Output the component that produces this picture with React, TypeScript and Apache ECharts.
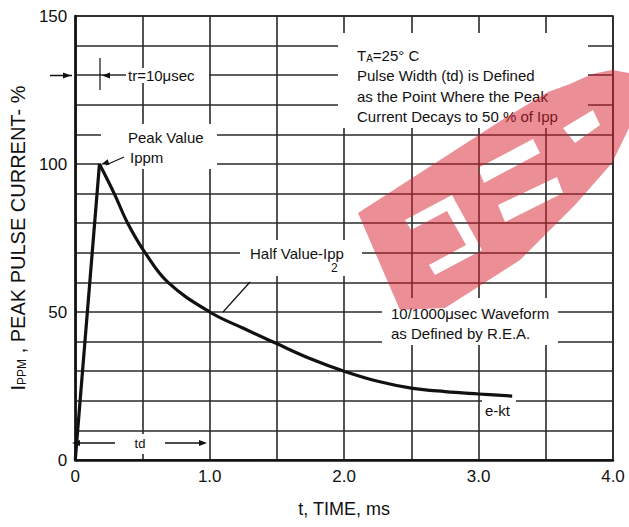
import React, { useEffect, useRef } from "react";
import * as echarts from "echarts";

// ---- data ----
const xTickLabels = ["0", "1.0", "2.0", "3.0", "4.0"];
const yTickLabels = ["0", "50", "100", "150"];

// rising edge of the pulse
const riseTimeMs = [0, 0.18];
const riseCurrentPct = [0, 100];

// decay after the peak
const decayTimeMs = [0.18, 0.29, 0.39, 0.52, 0.69, 1.0, 1.25, 1.49, 1.75, 2.0, 2.25, 2.5, 2.75, 3.0, 3.25];
const decayCurrentPct = [100, 90, 80, 70, 60, 50, 44.5, 39.5, 34.2, 30, 26.6, 24.3, 23.1, 22.3, 21.6];

const FONT = '"Liberation Sans", Arial, Helvetica, sans-serif';
const INK = "#111";
const GRID_INK = "#2a2a2a";

// ---- watermark outline (page pixels) ----
const wmOuter: number[][] = [
  [358, 213], [505, 118], [548, 92], [570, 84], [592, 74], [612, 70], [629, 73], [629, 128],
  [612, 163], [575, 205], [520, 260], [445, 308], [400, 310],
];
const wmHoles: number[][][] = [
  [[405, 220], [452, 195], [482, 250], [435, 275], [429, 265], [466, 245], [447, 211], [411, 230]],
  [[478, 168], [533, 139], [540, 153], [484, 183]],
  [[498, 205], [557, 177], [563, 193], [505, 222]],
  [[563, 128], [593, 110], [600, 125], [575, 143]],
];
const ringD = (p: number[][]) => "M" + p.map((q) => q[0] + " " + q[1]).join(" L") + " Z";
const wmD = [wmOuter, ...wmHoles].map(ringD).join(" ");
const wmSvg =
  '<svg xmlns="http://www.w3.org/2000/svg" width="629" height="527" viewBox="0 0 629 527">' +
  '<path d="' + wmD + '" fill="rgb(215,30,45)" fill-opacity="0.5" fill-rule="evenodd"/></svg>';
const wmUri = "data:image/svg+xml;charset=utf-8," + encodeURIComponent(wmSvg);

const mask = (x: number, y: number, w: number, h: number) => ({
  type: "rect",
  shape: { x, y, width: w, height: h },
  style: { fill: "#fff" },
  z: 1,
  silent: true,
});
const seg = (x1: number, y1: number, x2: number, y2: number, w = 1.5) => ({
  type: "line",
  shape: { x1, y1, x2, y2 },
  style: { stroke: INK, lineWidth: w },
  z: 3,
  silent: true,
});
const head = (tx: number, ty: number, fx: number, fy: number, len = 8, half = 3) => {
  const dx = tx - fx;
  const dy = ty - fy;
  const L = Math.hypot(dx, dy) || 1;
  const ux = dx / L;
  const uy = dy / L;
  const bx = tx - ux * len;
  const by = ty - uy * len;
  return {
    type: "polygon",
    shape: { points: [[tx, ty], [bx - uy * half, by + ux * half], [bx + uy * half, by - ux * half]] },
    style: { fill: INK },
    z: 3,
    silent: true,
  };
};
const txt = (x: number, y: number, text: string, size = 15, extra: any = {}) => ({
  type: "text",
  x,
  y,
  style: {
    text,
    fontSize: size,
    fontFamily: FONT,
    fill: INK,
    align: "left",
    verticalAlign: "middle",
    ...extra,
  },
  z: 3,
  silent: true,
});

export default function App() {
  const ref = useRef<HTMLDivElement>(null);

  useEffect(() => {
    document.body.style.margin = "0";
    const el = ref.current as HTMLDivElement;
    const chart = echarts.init(el, null, { renderer: "svg" });

    const option: any = {
      animation: false,
      backgroundColor: "#fff",
      grid: {
        left: 72,
        top: 16,
        width: 541,
        height: 444,
        show: true,
        borderColor: INK,
        borderWidth: 1.5,
      },
      xAxis: {
        type: "value",
        min: 0,
        max: 4,
        interval: 0.5,
        name: "t, TIME, ms",
        nameLocation: "middle",
        nameGap: 40,
        nameTextStyle: { fontSize: 18, fontFamily: FONT, color: INK },
        axisLine: { show: true, onZero: false, lineStyle: { color: INK, width: 2.5 } },
        axisTick: { show: false },
        axisLabel: {
          margin: 8,
          fontSize: 17,
          fontFamily: FONT,
          color: INK,
          formatter: (v: number) => {
            const k = Math.round(v);
            return Math.abs(v - k) < 1e-9 ? xTickLabels[k] ?? "" : "";
          },
        },
        splitLine: { show: true, lineStyle: { color: GRID_INK, width: 1.6 } },
      },
      yAxis: {
        type: "value",
        min: 0,
        max: 150,
        interval: 10,
        name: "{a|I}{b|PPM}{a| , PEAK PULSE CURRENT- %}",
        nameLocation: "middle",
        nameRotate: 90,
        nameGap: 40,
        nameTextStyle: {
          color: INK,
          rich: {
            a: { fontSize: 20, fontFamily: FONT, color: INK },
            b: { fontSize: 12, fontFamily: FONT, color: INK, verticalAlign: "bottom", padding: [8, 0, 0, 0] },
          },
        },
        axisLine: { show: true, onZero: false, lineStyle: { color: INK, width: 2.5 } },
        axisTick: { show: false },
        axisLabel: {
          margin: 8,
          fontSize: 17,
          fontFamily: FONT,
          color: INK,
          formatter: (v: number) => (Math.abs(v % 50) < 1e-9 ? yTickLabels[Math.round(v / 50)] ?? "" : ""),
        },
        splitLine: { show: true, lineStyle: { color: GRID_INK, width: 1.6 } },
      },
      series: [
        {
          type: "line",
          name: "rise",
          data: riseTimeMs.map((t, i) => [t, riseCurrentPct[i]]),
          symbol: "none",
          lineStyle: { color: INK, width: 3.2 },
          z: 4,
        },
        {
          type: "line",
          name: "decay",
          data: decayTimeMs.map((t, i) => [t, decayCurrentPct[i]]),
          symbol: "none",
          smooth: 0.4,
          lineStyle: { color: INK, width: 3.2 },
          z: 4,
        },
      ],
    };
    chart.setOption(option);

    const peak = chart.convertToPixel({ gridIndex: 0 }, [riseTimeMs[1], riseCurrentPct[1]]) as number[];
    const px = peak[0] + 1.5;
    const py = peak[1] + 0.5;

    const graphic: any[] = [
      // masks that break the grid behind the notes
      mask(338, 33, 250, 95),
      mask(101, 124, 116, 45),
      mask(126, 68, 83, 15),
      mask(240, 240, 122, 36),
      mask(382, 298, 176, 47),
      mask(482, 397, 34, 22),
      mask(127, 434, 26, 20),

      // tr dimension
      seg(50, 75.5, 72, 75.5),
      head(71, 75.5, 55, 75.5),
      head(102, 75.5, 120, 75.5),
      seg(100, 58, 100, 90, 1.2),
      txt(128, 75.5, "tr=10μsec"),

      // peak note
      txt(128, 137, "Peak Value"),
      txt(130, 157, "Ippm"),
      seg(124, 157, px + 5, py + 0.5, 1.2),
      head(px, py, 124, 157, 8, 2.8),

      // conditions block
      txt(357, 55, "T{s|A}=25° C", 15, { rich: { s: { fontSize: 10, fontFamily: FONT, fill: INK, padding: [6, 0, 0, 0] } } }),
      txt(357, 75, "Pulse Width (td) is Defined"),
      txt(357, 96, "as the Point Where the Peak"),
      txt(357, 116, "Current Decays to 50 % of Ipp"),

      // half value note
      txt(250, 253, "Half Value-Ipp"),
      txt(331, 268, "2", 12),
      seg(250, 282, 223, 312, 1.2),

      // waveform note
      txt(391, 313, "10/1000μsec Waveform"),
      txt(391, 333, "as Defined by R.E.A."),
      txt(485, 410, "e-kt"),

      // td dimension
      seg(74, 443, 115, 443),
      head(72, 443, 115, 443),
      seg(165, 443, 205, 443),
      head(207, 443, 165, 443),
      txt(140, 443, "td", 13, { align: "center" }),

      // watermark
      {
        type: "image",
        style: { image: wmUri, x: 0, y: 0, width: 629, height: 527 },
        z: 10,
        silent: true,
      },
    ];
    chart.setOption({ graphic });

    return () => chart.dispose();
  }, []);

  return <div ref={ref} style={{ width: 629, height: 527 }} />;
}
